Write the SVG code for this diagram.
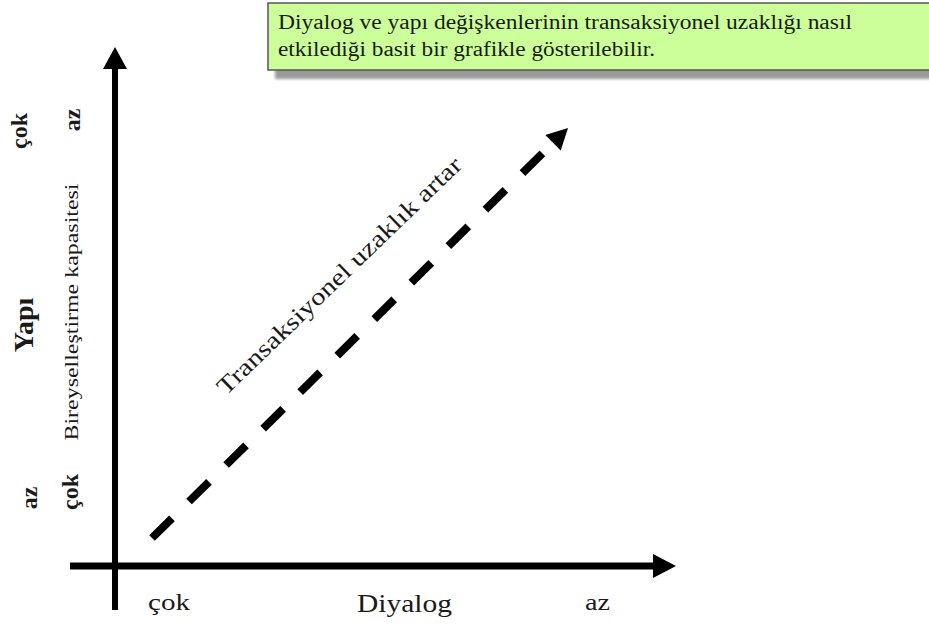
<svg xmlns="http://www.w3.org/2000/svg" width="929" height="628" viewBox="0 0 929 628">
  <defs>
    <style>
      text { font-family: 'Liberation Serif', 'Times New Roman', Tinos, serif; fill: #1a1a1a; }
      .ax { stroke: #000; fill: none; }
      .head { fill: #000; stroke: none; }
    </style>
    <filter id="blur" x="-5%" y="-20%" width="110%" height="140%">
      <feGaussianBlur stdDeviation="1.5"/>
    </filter>
  </defs>
  <rect width="929" height="628" fill="#fff"/>

  <g id="note">
    <rect x="275" y="12" width="680" height="67" fill="#9a9a9a" filter="url(#blur)"/>
    <rect x="268" y="3" width="680" height="67" fill="#ccff99" stroke="#555" stroke-width="1.5"/>
    <text x="278" y="29" font-size="20" textLength="574" lengthAdjust="spacingAndGlyphs">Diyalog ve yapı değişkenlerinin transaksiyonel uzaklığı nasıl</text>
    <text x="278" y="56" font-size="20" textLength="377" lengthAdjust="spacingAndGlyphs">etkilediği basit bir grafikle gösterilebilir.</text>
  </g>

  <g id="connectors">
    <line class="ax" x1="115" y1="66" x2="115" y2="610" stroke-width="6"/>
    <polygon class="head" points="115,47 103,69 127,69"/>
    <line class="ax" x1="70" y1="566" x2="655" y2="566" stroke-width="7"/>
    <polygon class="head" points="676,566 653,554 653,578"/>
    <line class="ax" x1="152" y1="538" x2="553" y2="143" stroke-width="8" stroke-dasharray="28 24"/>
    <polygon class="head" points="568,128 560.7,150.5 545.3,134.9"/>
  </g>

  <g id="diagonal-label">
    <text x="226" y="396" font-size="24" transform="rotate(-44 226 396)" textLength="330" lengthAdjust="spacingAndGlyphs">Transaksiyonel uzaklık artar</text>
  </g>

  <g id="x-labels">
    <text x="148" y="610" font-size="24" textLength="42" lengthAdjust="spacingAndGlyphs">çok</text>
    <text x="357" y="612" font-size="25" textLength="95" lengthAdjust="spacingAndGlyphs">Diyalog</text>
    <text x="585" y="610" font-size="24" textLength="25" lengthAdjust="spacingAndGlyphs">az</text>
  </g>

  <g id="y-labels" text-anchor="middle">
    <text font-size="24" font-weight="bold" transform="translate(27 131) rotate(-90)">çok</text>
    <text font-size="24" font-weight="bold" transform="translate(80 120) rotate(-90)">az</text>
    <text font-size="28" font-weight="bold" transform="translate(33 325) rotate(-90)">Yapı</text>
    <text font-size="19" transform="translate(78 312) rotate(-90)" textLength="257" lengthAdjust="spacingAndGlyphs">Bireyselleştirme kapasitesi</text>
    <text font-size="24" font-weight="bold" transform="translate(37 498) rotate(-90)">az</text>
    <text font-size="24" font-weight="bold" transform="translate(78 492) rotate(-90)">çok</text>
  </g>
</svg>
